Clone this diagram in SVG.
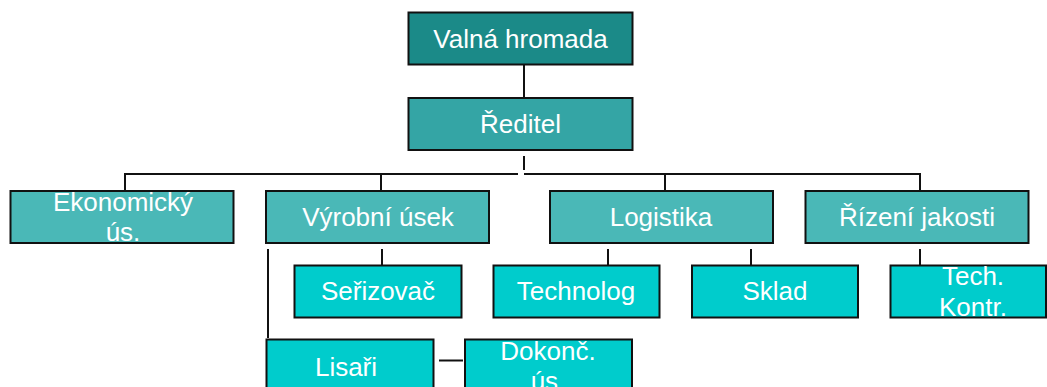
<svg xmlns="http://www.w3.org/2000/svg" width="1047" height="387" viewBox="0 0 1047 387">
<style>
.box{stroke:#111;stroke-width:2}
.l0{fill:#1b8a88}
.l1{fill:#34a5a5}
.l2{fill:#4ab8b7}
.l3{fill:#00cccc}
text{font-family:"Liberation Sans",Arial,sans-serif;font-size:26px;fill:#fff;text-anchor:middle}
#connectors line{stroke:#111;stroke-width:2}
</style>
<rect width="1047" height="387" fill="#fff"/>
<g id="connectors">
<line x1="524" y1="64" x2="524" y2="97"/>
<line x1="524" y1="156" x2="524" y2="170"/>
<line x1="124" y1="174" x2="518" y2="174"/>
<line x1="524" y1="174" x2="921" y2="174"/>
<line x1="125" y1="174" x2="125" y2="190"/>
<line x1="381" y1="174" x2="381" y2="190"/>
<line x1="665" y1="174" x2="665" y2="190"/>
<line x1="920" y1="174" x2="920" y2="190"/>
<line x1="382" y1="249" x2="382" y2="265"/>
<line x1="608" y1="249" x2="608" y2="265"/>
<line x1="751" y1="249" x2="751" y2="265"/>
<line x1="920" y1="249" x2="920" y2="265"/>
<line x1="268" y1="249" x2="268" y2="338"/>
<line x1="439" y1="360.5" x2="463" y2="360.5"/>
</g>
<g id="valna"><rect class="box l0" x="408.5" y="12.5" width="224" height="52"/><text x="520.5" y="48">Valná hromada</text></g>
<g id="reditel"><rect class="box l1" x="408.5" y="98" width="224" height="52"/><text x="520.5" y="133">Ředitel</text></g>
<g id="ekonomicky"><rect class="box l2" x="10.5" y="191" width="223" height="52"/><text x="123" y="211">Ekonomický</text><text x="123" y="241">ús.</text></g>
<g id="vyrobni"><rect class="box l2" x="266" y="191" width="223" height="52"/><text x="378" y="226">Výrobní úsek</text></g>
<g id="logistika"><rect class="box l2" x="550" y="191" width="223" height="52"/><text x="661" y="226">Logistika</text></g>
<g id="rizeni"><rect class="box l2" x="805.5" y="191" width="223" height="52"/><text x="917" y="226">Řízení jakosti</text></g>
<g id="serizovac"><rect class="box l3" x="294.5" y="265.5" width="167" height="52"/><text x="378" y="300">Seřizovač</text></g>
<g id="technolog"><rect class="box l3" x="493.5" y="265.5" width="166" height="52"/><text x="576" y="300">Technolog</text></g>
<g id="sklad"><rect class="box l3" x="692" y="265.5" width="166" height="52"/><text x="775" y="300">Sklad</text></g>
<g id="techkontr"><rect class="box l3" x="890.5" y="265.5" width="155.5" height="52"/><text x="973" y="285">Tech.</text><text x="973" y="316">Kontr.</text></g>
<g id="lisari"><rect class="box l3" x="266.5" y="339.5" width="167" height="60"/><text x="346" y="376">Lisaři</text></g>
<g id="dokonc"><rect class="box l3" x="465" y="339.5" width="167" height="60"/><text x="548" y="360">Dokonč.</text><text x="548" y="390">ús.</text></g>
</svg>
